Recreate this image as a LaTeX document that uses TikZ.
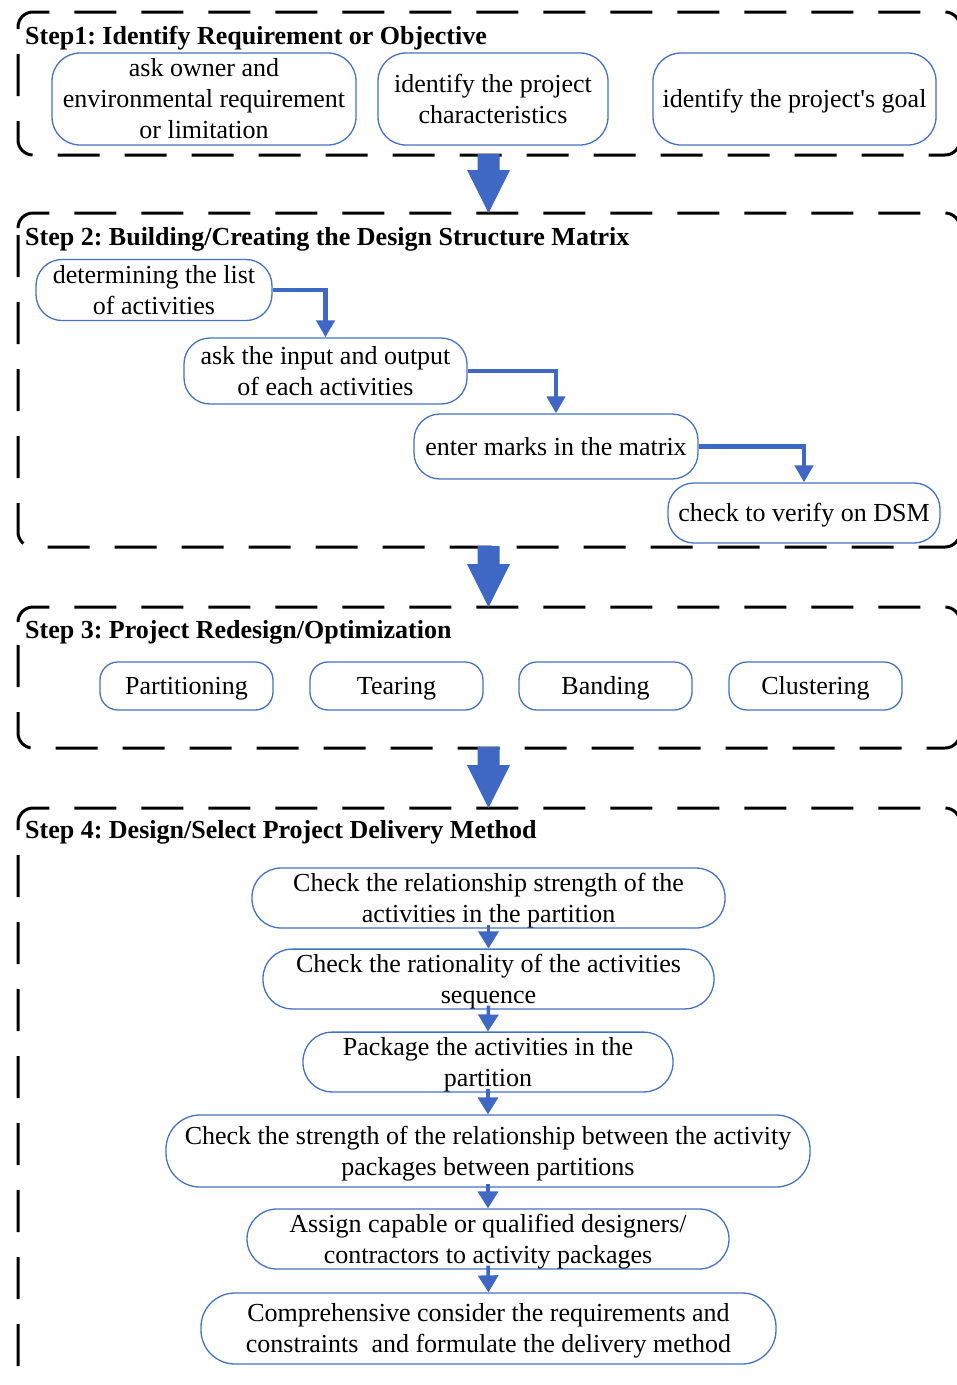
\documentclass[tikz,border=0pt]{standalone}
\usepackage{fontspec}
\setmainfont{Liberation Serif}[Ligatures=TeXOff]
\usetikzlibrary{arrows.meta,calc}
\definecolor{boxblue}{RGB}{68,114,196}
\definecolor{arrblue}{RGB}{62,104,196}
\newcommand{\mystrut}{\rule[-5.6pt]{0pt}{28.8pt}}
\frenchspacing
\begin{document}
\begin{tikzpicture}[x=1pt,y=-1pt,
  font=\fontsize{26}{31}\selectfont,
  box/.style={draw=boxblue, line width=1.3pt, rounded corners=26pt, align=center, inner sep=0pt},
  frame/.style={draw=black, line width=3pt, dash pattern=on 42pt off 25pt, rounded corners=15pt},
  head/.style={font=\fontsize{26}{31}\selectfont\bfseries, anchor=base west, inner sep=0pt},
  conn/.style={draw=arrblue, line width=4.5pt, -{Triangle[width=18pt,length=17pt]}},
  sconn/.style={draw=arrblue, line width=3.5pt, -{Triangle[width=20pt,length=17pt]}},
  bigarrow/.style={fill=arrblue}]
\useasboundingbox (0,0) rectangle (957,1385);

% frames
\draw[frame] (18,40) -- (18,12) -- (960,12) -- (960,155) -- (18,155) -- cycle;
\draw[frame] (18,241) -- (18,213) -- (960,213) -- (960,547) -- (18,547) -- cycle;
\draw[frame] (18,635) -- (18,607) -- (960,607) -- (960,748) -- (18,748) -- cycle;
\draw[frame] (18,836) -- (18,808) -- (960,808) -- (960,1389) -- (18,1389) -- cycle;

% headings
\node[head] (h1) at (25,44) {Step1: Identify Requirement or Objective};
\node[head] (h2) at (25,245) {Step 2: Building/Creating the Design Structure Matrix};
\node[head] (h3) at (25,638) {Step 3: Project Redesign/Optimization};
\node[head] (h4) at (25,838) {Step 4: Design/Select Project Delivery Method};

% step 1
\node[box, rounded corners=28pt, minimum width=304pt, minimum height=92pt] (s1a) at (204,99) {\mystrut ask owner and\\\mystrut environmental requirement\\\mystrut or limitation};
\node[box, rounded corners=28pt, minimum width=230pt, minimum height=92pt] (s1b) at (493,99) {\mystrut identify the project\\\mystrut characteristics};
\node[box, rounded corners=28pt, minimum width=283pt, minimum height=92pt] (s1c) at (794.5,99) {\mystrut identify the project's goal};

% step 2
\node[box, minimum width=236pt, minimum height=61pt] (s2a) at (154,290) {\mystrut determining the list\\\mystrut of activities};
\node[box, minimum width=283pt, minimum height=66pt] (s2b) at (325.5,371) {\mystrut ask the input and output\\\mystrut of each activities};
\node[box, minimum width=284pt, minimum height=65pt] (s2c) at (556,446.5) {\mystrut enter marks in the matrix};
\node[box, minimum width=272pt, minimum height=60pt] (s2d) at (804,513) {\mystrut check to verify on DSM};
\draw[conn] (s2a.east) -| (s2b.north);
\draw[conn] (s2b.east) -| (s2c.north);
\draw[conn] (s2c.east) -| (s2d.north);

% step 3
\node[box, rounded corners=18pt, minimum width=173pt, minimum height=48pt] (s3a) at (186.5,686) {\mystrut Partitioning};
\node[box, rounded corners=18pt, minimum width=173pt, minimum height=48pt] (s3b) at (396.5,686) {\mystrut Tearing};
\node[box, rounded corners=18pt, minimum width=173pt, minimum height=48pt] (s3c) at (605.5,686) {\mystrut Banding};
\node[box, rounded corners=18pt, minimum width=173pt, minimum height=48pt] (s3d) at (815.5,686) {\mystrut Clustering};

% step 4
\node[box, rounded corners=29pt, minimum width=473pt, minimum height=60pt] (s4a) at (488.5,898) {\mystrut Check the relationship strength of the\\\mystrut activities in the partition};
\node[box, rounded corners=29pt, minimum width=451pt, minimum height=58pt] (s4b) at (488.5,979) {\mystrut Check the rationality of the activities\\\mystrut sequence};
\node[box, rounded corners=29pt, minimum width=370pt, minimum height=58pt] (s4c) at (488,1062) {\mystrut Package the activities in the\\\mystrut partition};
\node[box, rounded corners=34pt, minimum width=644pt, minimum height=72pt] (s4d) at (488,1151) {\mystrut Check the strength of the relationship between the activity\\\mystrut packages between partitions};
\node[box, rounded corners=30pt, minimum width=482pt, minimum height=60pt] (s4e) at (488,1239) {\mystrut Assign capable or qualified designers/\\\mystrut contractors to activity packages};
\node[box, rounded corners=34pt, minimum width=575pt, minimum height=71pt] (s4f) at (488.5,1328.5) {\mystrut Comprehensive consider the requirements and\\\mystrut constraints\ \ and formulate the delivery method};
\draw[sconn] ([yshift=4pt]s4a.south) -- (s4b.north);
\draw[sconn] ([yshift=4pt]s4b.south) -- (s4c.north);
\draw[sconn] ([yshift=4pt]s4c.south) -- (s4d.north);
\draw[sconn] ([yshift=4pt]s4d.south) -- (s4e.north);
\draw[sconn] ([yshift=4pt]s4e.south) -- (s4f.north);

% big arrows between steps
\coordinate (f1b) at (488.5,154);
\coordinate (f2t) at (488.5,213);
\coordinate (f2b) at (488.5,546);
\coordinate (f3t) at (488.5,607);
\coordinate (f3b) at (488.5,747);
\coordinate (f4t) at (488.5,808);
\foreach \a/\b in {f1b/f2t, f2b/f3t, f3b/f4t}{
  \fill[bigarrow] ($(\a)+(-11,0)$) -- ($(\a)+(11,0)$) -- ($(\b)+(11,-43)$) -- ($(\b)+(21.5,-43)$) -- (\b) -- ($(\b)+(-21.5,-43)$) -- ($(\b)+(-11,-43)$) -- cycle;
}
\end{tikzpicture}
\end{document}
